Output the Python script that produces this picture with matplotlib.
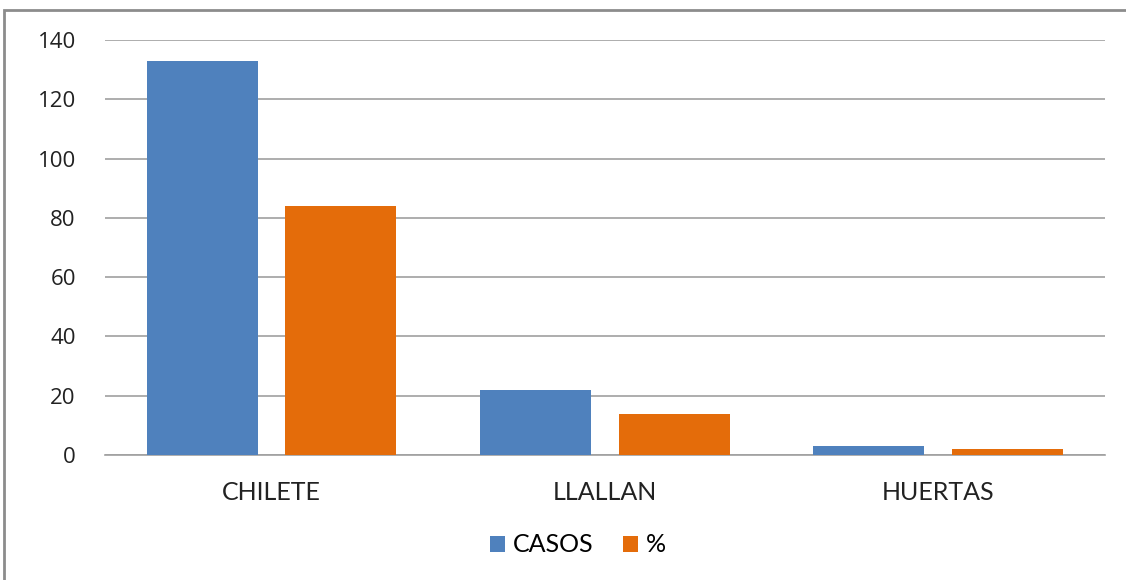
import numpy as np
import matplotlib
matplotlib.use("Agg")
import matplotlib.pyplot as plt
from matplotlib.patches import Rectangle

categories = ["CHILETE", "LLALLAN", "HUERTAS"]
casos = [133, 22, 3]
porcentaje = [84, 14, 2]

plt.rcParams['font.family'] = ['Lato', 'DejaVu Sans']

W, H = 1126, 580
fig = plt.figure(figsize=(W / 100, H / 100), dpi=100)

# chart border (top and left visible)
fig.patches.append(Rectangle((4 / W, -0.05), 1.1, 1.05 - 10 / H,
                             transform=fig.transFigure, fill=False,
                             edgecolor='#8c8c8c', linewidth=2))

ax = fig.add_axes([105 / W, 1 - 455 / H, 1000 / W, 415 / H])

x = np.arange(len(categories))
bw = 0.333
off = 0.208
ax.bar(x - off, casos, bw, color='#4f81bd', label='CASOS', zorder=3)
ax.bar(x + off, porcentaje, bw, color='#e46c0a', label='%', zorder=3)

ax.set_xlim(-0.5, 2.5)
ax.set_ylim(0, 140)
ax.set_yticks(range(0, 141, 20))
ax.yaxis.grid(True, color='#a0a0a0', linewidth=1.2, zorder=0)
for s in ['top', 'right', 'left']:
    ax.spines[s].set_visible(False)
ax.spines['bottom'].set_color('#a0a0a0')
ax.spines['bottom'].set_linewidth(1.2)
ax.tick_params(axis='both', length=0, colors='#222222')
ax.tick_params(axis='x', pad=19, labelsize=18)
ax.tick_params(axis='y', pad=21, labelsize=16)
for lbl in ax.get_yticklabels():
    lbl.set_family(['Open Sans', 'DejaVu Sans'])
ax.set_xticks(x)
ax.set_xticklabels(categories)

fig.legend(loc='center', bbox_to_anchor=(578 / W, 1 - 545 / H), ncol=2,
           frameon=False, fontsize=18, handlelength=0.6, handleheight=0.6,
           handletextpad=0.3, columnspacing=1.2)

fig.savefig('out.png', dpi=100)
